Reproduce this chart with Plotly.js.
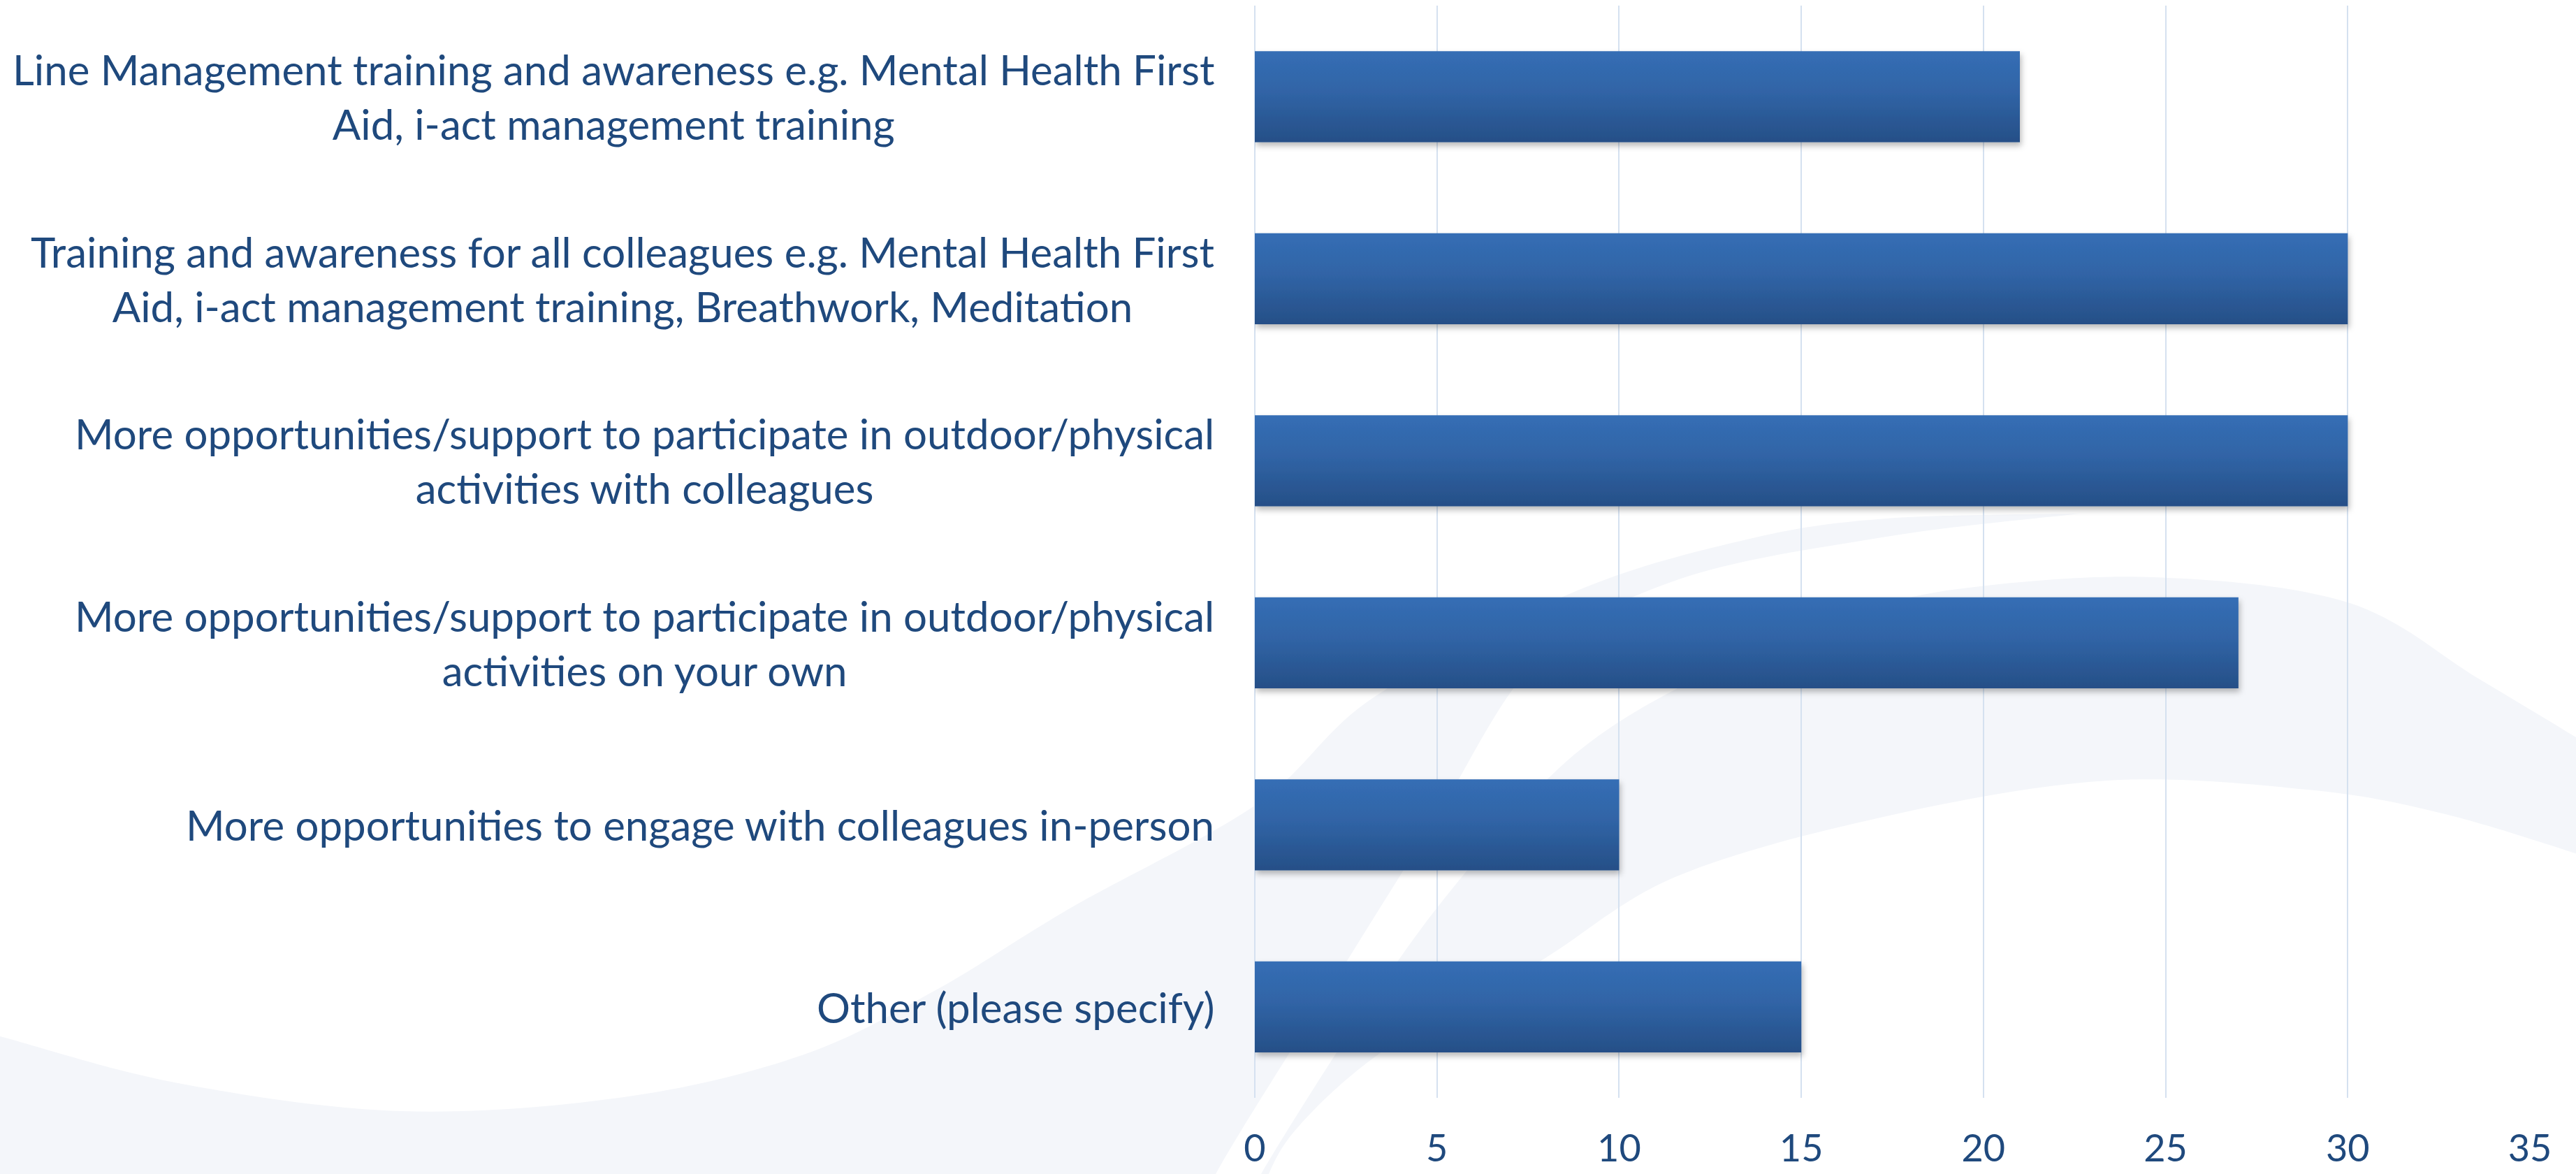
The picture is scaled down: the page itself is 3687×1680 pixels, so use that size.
<!DOCTYPE html>
<html>
<head>
<meta charset="utf-8">
<script src="https://cdn.plot.ly/plotly-3.0.1.min.js"></script>
<style>
  html, body { margin: 0; padding: 0; background: #ffffff; }
  #chart { width: 3687px; height: 1680px; }
</style>
</head>
<body>
<div id="chart"></div>
<script>
// ---- data ----
const categories = [
  "Line Management training and awareness e.g. Mental Health First<br>Aid, i-act management training",
  "Training and awareness for all colleagues e.g. Mental Health First<br>Aid, i-act management training, Breathwork, Meditation",
  "More opportunities/support to participate in outdoor/physical<br>activities with colleagues",
  "More opportunities/support to participate in outdoor/physical<br>activities on your own",
  "More opportunities to engage with colleagues in-person",
  "Other (please specify)"
];
const values = [21, 30, 30, 27, 10, 15];
const xTickValues = [0, 5, 10, 15, 20, 25, 30, 35];
const xTickLabels = ["0", "5", "10", "15", "20", "25", "30", "35"];

// ---- layout geometry ----
const W = 3687, H = 1680;
const M = { l: 1796, r: 66, t: 8, b: 109 };
const PW = W - M.l - M.r, PH = H - M.t - M.b;
const TEXT = "#1F497D";
const FONT = "Lato, 'Open Sans', sans-serif";

// decorative background swooshes (pixel coords -> paper coords, smoothed edges)
function P(p) { return [(p[0] - M.l) / PW, 1 - (p[1] - M.t) / PH]; }
function f(v) { return v[0].toFixed(5) + "," + v[1].toFixed(5); }
function smooth(pts) {
  const q = pts.map(P);
  let s = "";
  for (let i = 0; i < q.length - 1; i++) {
    const p0 = q[Math.max(i - 1, 0)], p1 = q[i], p2 = q[i + 1], p3 = q[Math.min(i + 2, q.length - 1)];
    const c1 = [p1[0] + (p2[0] - p0[0]) / 6, p1[1] + (p2[1] - p0[1]) / 6];
    const c2 = [p2[0] - (p3[0] - p1[0]) / 6, p2[1] - (p3[1] - p1[1]) / 6];
    s += " C" + f(c1) + " " + f(c2) + " " + f(p2);
  }
  return s;
}
function shapePath(edges, extra) {
  let s = "M" + f(P(edges[0][0])) + smooth(edges[0]);
  for (let k = 1; k < edges.length; k++) {
    s += " L" + f(P(edges[k][0])) + smooth(edges[k]);
  }
  (extra || []).forEach(p => { s += " L" + f(P(p)); });
  return s + " Z";
}
const swooshA_top = [
  [-60, 1468], [0, 1483], [255, 1550], [574, 1590], [893, 1570], [1148, 1510], [1339, 1417],
  [1531, 1300], [1800, 1150], [1966, 998], [2253, 847], [2500, 772], [2700, 742], [2977, 735]
];
const swooshA_inner = [
  [2977, 735], [2700, 768], [2400, 830], [2200, 945], [2050, 1180], [1900, 1420], [1740, 1680], [1715, 1760]
];
const swooshA_close = [[-60, 1760]];
const swooshB_upper = [
  [1795, 1720], [1805, 1680], [1950, 1450], [2080, 1270], [2253, 1080], [2450, 960],
  [2650, 880], [2810, 842], [3081, 826], [3360, 862], [3549, 972], [3720, 1075]
];
const swooshB_lower = [
  [3720, 1232], [3500, 1165], [3303, 1130], [3016, 1117], [2700, 1168], [2400, 1254],
  [2200, 1378], [1985, 1500], [1850, 1622], [1800, 1720]
];
const bgFill = "rgb(244,246,250)";

const trace = {
  type: "bar",
  orientation: "h",
  y: categories,
  x: values,
  marker: { color: "#2E5E9E", line: { width: 0 } },
  hoverinfo: "x+y"
};

const annotations = categories.map(c => ({
  xref: "paper", yref: "y",
  x: 0, y: c,
  xanchor: "right", yanchor: "middle",
  xshift: -56,
  align: "center",
  showarrow: false,
  text: c,
  font: { family: FONT, size: 60, color: TEXT }
}));

const layout = {
  width: W, height: H,
  margin: M,
  paper_bgcolor: "#ffffff",
  plot_bgcolor: "rgba(0,0,0,0)",
  showlegend: false,
  bargap: 0.5,
  font: { family: FONT, color: TEXT },
  xaxis: {
    range: [0, 35],
    tickmode: "array",
    tickvals: xTickValues,
    ticktext: xTickLabels,
    showgrid: true,
    gridcolor: "#D5E1F0",
    gridwidth: 2,
    zeroline: true,
    zerolinecolor: "#D5E1F0",
    zerolinewidth: 2,
    showline: false,
    ticks: "",
    ticklabelstandoff: 36,
    tickfont: { family: FONT, size: 54, color: TEXT },
    fixedrange: true
  },
  yaxis: {
    type: "category",
    autorange: "reversed",
    showgrid: false,
    zeroline: false,
    showline: false,
    showticklabels: false,
    ticks: "",
    fixedrange: true
  },
  shapes: [
    { type: "path", xref: "paper", yref: "paper", layer: "below",
      path: shapePath([swooshA_top, swooshA_inner], swooshA_close), fillcolor: bgFill, line: { width: 0 } },
    { type: "path", xref: "paper", yref: "paper", layer: "below",
      path: shapePath([swooshB_upper, swooshB_lower]), fillcolor: bgFill, line: { width: 0 } }
  ],
  annotations: annotations
};

Plotly.newPlot("chart", [trace], layout, { staticPlot: true, displayModeBar: false }).then(gd => {
  // gradient fill + soft drop shadow for the bars
  const svg = gd.querySelector("svg.main-svg");
  const NS = "http://www.w3.org/2000/svg";
  let defs = svg.querySelector("defs");
  if (!defs) { defs = document.createElementNS(NS, "defs"); svg.insertBefore(defs, svg.firstChild); }
  const grad = document.createElementNS(NS, "linearGradient");
  grad.setAttribute("id", "barGrad");
  grad.setAttribute("x1", "0"); grad.setAttribute("y1", "0");
  grad.setAttribute("x2", "0"); grad.setAttribute("y2", "1");
  [["0", "#356EB5"], ["0.45", "#3064A6"], ["1", "#264F87"]].forEach(([o, c]) => {
    const s = document.createElementNS(NS, "stop");
    s.setAttribute("offset", o); s.setAttribute("stop-color", c);
    grad.appendChild(s);
  });
  defs.appendChild(grad);
  const filt = document.createElementNS(NS, "filter");
  filt.setAttribute("id", "barShadow");
  filt.setAttribute("x", "-5%"); filt.setAttribute("y", "-20%");
  filt.setAttribute("width", "110%"); filt.setAttribute("height", "150%");
  const ds = document.createElementNS(NS, "feDropShadow");
  ds.setAttribute("dx", "2"); ds.setAttribute("dy", "5");
  ds.setAttribute("stdDeviation", "4");
  ds.setAttribute("flood-color", "#000000");
  ds.setAttribute("flood-opacity", "0.28");
  filt.appendChild(ds);
  defs.appendChild(filt);
  gd.querySelectorAll(".bars .point path").forEach(p => {
    p.style.fill = "url(#barGrad)";
    p.setAttribute("filter", "url(#barShadow)");
  });
});
</script>
</body>
</html>
